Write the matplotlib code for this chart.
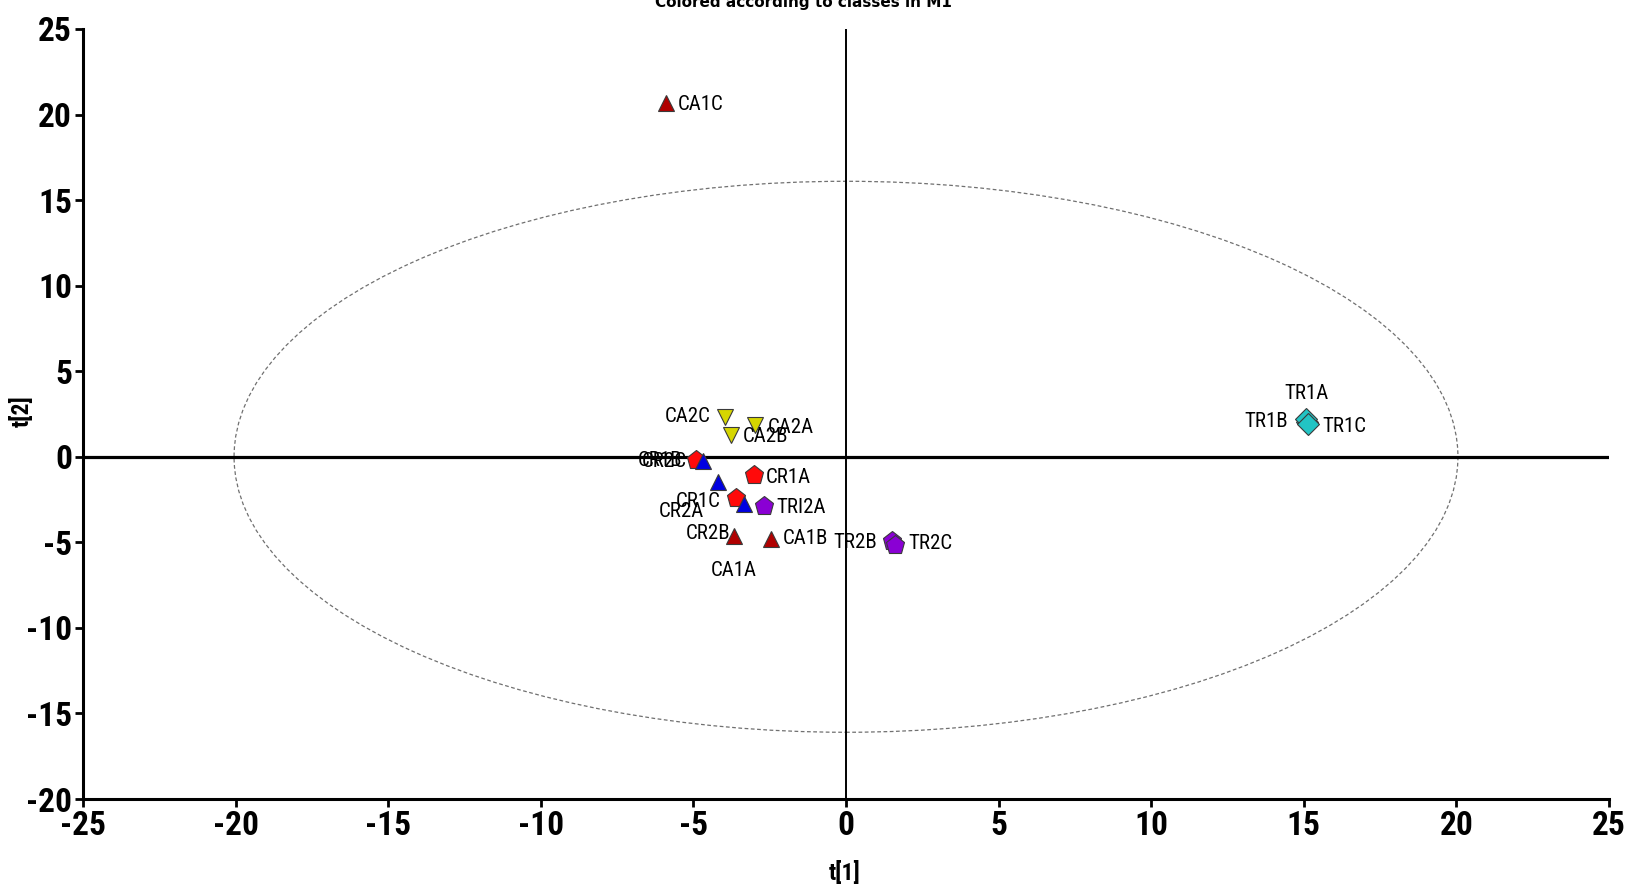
import matplotlib

matplotlib.use("Agg")
import matplotlib.pyplot as plt
from matplotlib.patches import Ellipse

plt.rcParams["axes.unicode_minus"] = False

# ── scores (t[1], t[2]) per sample ──────────────────────────────────
names = ["CA1A", "CA1B", "CA1C",
         "CA2A", "CA2B", "CA2C",
         "CR1A", "CR1B", "CR1C",
         "CR2A", "CR2B", "CR2C",
         "TR1A", "TR1B", "TR1C",
         "TRI2A", "TR2B", "TR2C"]
classes = ["CA1"] * 3 + ["CA2"] * 3 + ["CR1"] * 3 + ["CR2"] * 3 + ["TR1"] * 3 + ["TR2"] * 3
t1 = [-3.67, -2.46, -5.91,
      -2.98, -3.78, -3.96,
      -3.02, -4.92, -3.62,
      -4.21, -3.34, -4.70,
      15.11, 15.08, 15.15,
      -2.69, 1.50, 1.62]
t2 = [-4.65, -4.78, 20.67,
      1.84, 1.26, 2.33,
      -1.08, -0.20, -2.39,
      -1.47, -2.78, -0.26,
      2.05, 2.18, 1.90,
      -2.89, -4.92, -5.18]

# Hotelling T2 ellipse semi-axes
ell_a, ell_b = 20.05, 16.1

# ── styling ─────────────────────────────────────────────────────────
class_style = {
    "CA1": dict(marker="^", color="#b00000", ms=12),
    "CA2": dict(marker="v", color="#d6d600", ms=12),
    "CR1": dict(marker="p", color="#ff0a0a", ms=14),
    "CR2": dict(marker="^", color="#0000e0", ms=12),
    "TR1": dict(marker="D", color="#22c4c4", ms=11),
    "TR2": dict(marker="p", color="#8a00d4", ms=14),
}
# label placement: (dx px, dy px downward, ha)
label_pos = {
    "CA1A": (0, 34, "center"), "CA1B": (12, 0, "left"), "CA1C": (12, 1, "left"),
    "CA2A": (13, 2, "left"), "CA2B": (12, 1, "left"), "CA2C": (-15, 0, "right"),
    "CR1A": (12, 2, "left"), "CR1B": (-14, 0, "right"), "CR1C": (-15, 4, "right"),
    "CR2A": (-14, 30, "right"), "CR2B": (-14, 29, "right"), "CR2C": (-16, 0, "right"),
    "TR1A": (-1, -28, "center"), "TR1B": (-18, 2, "right"), "TR1C": (14, 2, "left"),
    "TRI2A": (12, 1, "left"), "TR2B": (-15, 2, "right"), "TR2C": (13, -2, "left"),
}

NARROW = ["Roboto Condensed", "Liberation Sans", "DejaVu Sans"]
px = 72.0 / 100.0  # pixels -> points at dpi 100

fig = plt.figure(figsize=(16.32, 8.92), dpi=100)
ax = fig.add_axes([83 / 1632, 1 - 799 / 892, (1609 - 83) / 1632, (799 - 29) / 892])

ax.add_patch(Ellipse((0, 0), 2 * ell_a, 2 * ell_b, fill=False,
                     edgecolor="#707070", lw=0.9, ls=(0, (3, 2)), zorder=1))
ax.axhline(0, color="black", lw=2.3, zorder=2)
ax.axvline(0, color="black", lw=1.4, zorder=2)

for cls, st in class_style.items():
    idx = [i for i, c in enumerate(classes) if c == cls]
    ax.plot([t1[i] for i in idx], [t2[i] for i in idx], ls="none",
            marker=st["marker"], markersize=st["ms"], markerfacecolor=st["color"],
            markeredgecolor="#3a3a3a", markeredgewidth=0.8, zorder=3)

for name, x, y in zip(names, t1, t2):
    dx, dy, ha = label_pos[name]
    ax.annotate(name, (x, y), xytext=(dx * px, -dy * px), textcoords="offset points",
                ha=ha, va="center", fontsize=15, family=NARROW, zorder=4)

ax.set_xlim(-25, 25)
ax.set_ylim(-20, 25)
ax.set_xticks(range(-25, 26, 5))
ax.set_yticks(range(-20, 26, 5))
for s in ("top", "right"):
    ax.spines[s].set_visible(False)
for s in ("left", "bottom"):
    ax.spines[s].set_linewidth(2.2)
ax.tick_params(length=6, width=2, pad=2)
for lab in ax.get_xticklabels() + ax.get_yticklabels():
    lab.set_family(NARROW)
    lab.set_fontsize(24)
    lab.set_fontweight("bold")

ax.set_xlabel("t[1]", family=NARROW, fontsize=17, fontweight="bold")
ax.set_ylabel("t[2]", family=NARROW, fontsize=17, fontweight="bold")
ax.xaxis.set_label_coords((845 - 83) / 1526, -(861 - 799) / 770)
ax.yaxis.set_label_coords(-(83 - 34) / 1526, (799 - 411) / 770)

fig.text(803 / 1632, 1 - 7 / 892, "Colored according to classes in M1",
         ha="center", va="baseline", fontsize=11, fontweight="bold",
         family="DejaVu Sans")

fig.savefig("out.png", dpi=100)
